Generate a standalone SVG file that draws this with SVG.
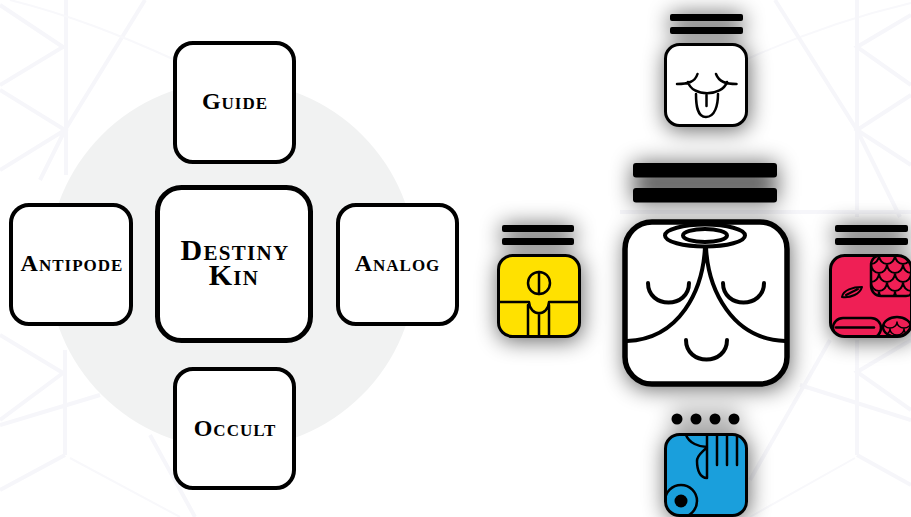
<svg xmlns="http://www.w3.org/2000/svg" width="911" height="517" viewBox="0 0 911 517">
<style>
.box{fill:#fff;stroke:#000;stroke-width:4}
.lbl{font-family:"Liberation Serif",serif;font-weight:bold;font-variant:small-caps;font-size:24px;letter-spacing:1px;text-anchor:middle;fill:#000}
.big{font-size:30px;letter-spacing:1.300px}
.l{fill:none;stroke:#000;stroke-linecap:round;stroke-linejoin:round}
.bg{fill:none;stroke:#f6f6fa;stroke-width:4}
.bt{fill:none;stroke:#f8f8fb;stroke-width:2}
</style>
<defs>
<filter id="sh" x="-40%" y="-40%" width="180%" height="180%"><feGaussianBlur stdDeviation="11"/></filter>
<clipPath id="rc"><rect x="830.500" y="255.500" width="81" height="81" rx="14"/></clipPath>
<clipPath id="bc"><rect x="665.500" y="434.500" width="81" height="81" rx="14"/></clipPath>
<clipPath id="sc"><rect x="871" y="255" width="45" height="41" rx="10"/></clipPath>
<clipPath id="ec"><ellipse cx="897" cy="327" rx="14" ry="10"/></clipPath>
</defs>
<rect width="911" height="517" fill="#fff"/>
<g id="background">
<path class="bg" d="M66 0V175M0 5L63 47L0 85M0 90L65 130L0 170M145 0L65 130L40 180M65 350V455M0 335L63 373L0 420M0 425L100 395M65 455L0 490M150 435L195 517"/>
<path class="bt" d="M10 0C70 15 120 35 175 60M70 458L180 517M745 60C800 35 860 15 911 3M750 517L855 458"/>
<path class="bg" d="M857 0V217M775 0L857 130L900 217M911 15L857 47L911 85M911 95L857 130L911 165M620 212H911M857 340V455M911 340L857 372L911 410M800 385L911 420M857 455L911 485M830 340L750 480"/>
<circle cx="232" cy="265" r="184" fill="#f1f2f2"/>
</g>
<g id="guide"><rect class="box" x="175" y="43" width="119" height="119" rx="18"/><text class="lbl" x="235" y="109">Guide</text></g>
<g id="antipode"><rect class="box" x="11" y="205" width="120" height="119" rx="18"/><text class="lbl" x="72" y="271">Antipode</text></g>
<g id="destiny"><rect fill="#fff" stroke="#000" stroke-width="5" x="157.500" y="187.500" width="153" height="153" rx="24"/><text class="lbl big" x="235" y="260">Destiny</text><text class="lbl big" x="234" y="285">Kin</text></g>
<g id="analog"><rect class="box" x="338" y="205" width="119" height="119" rx="18"/><text class="lbl" x="397.500" y="271">Analog</text></g>
<g id="occult"><rect class="box" x="175" y="369" width="119" height="119" rx="18"/><text class="lbl" x="235" y="436">Occult</text></g>

<g id="shadows" filter="url(#sh)" fill="#000" opacity=".6">
<rect x="633" y="163" width="144" height="40"/><rect x="625" y="225" width="165" height="164" rx="24"/>
<rect x="670" y="14" width="73" height="20"/><rect x="665" y="46" width="84" height="84" rx="14"/>
<rect x="502" y="225" width="72" height="20"/><rect x="498" y="257" width="84" height="84" rx="14"/>
<rect x="835" y="225" width="73" height="20"/><rect x="831" y="257" width="84" height="84" rx="14"/>
<rect x="672" y="414" width="68" height="10"/><rect x="665" y="436" width="84" height="84" rx="14"/>
</g>

<g id="destiny-glyph">
<rect x="633" y="163" width="144" height="14.500" rx="3"/><rect x="633" y="188" width="144" height="14.500" rx="3"/>
<rect x="625" y="222" width="162" height="162" rx="27" fill="#fff" stroke="#000" stroke-width="5.500"/>
<g class="l" stroke-width="4">
<ellipse cx="705" cy="235.500" rx="40" ry="11"/><ellipse cx="705" cy="235.500" rx="22" ry="6.500"/>
<path d="M705 247C703 290 680 339 627 341M706 247C708 290 732 339 785 341"/>
<path d="M648 283C648 309 689 309 689 283M723 283C723 309 764 309 764 283M686 340C686 366 727 366 727 340"/>
</g></g>

<g id="guide-glyph">
<rect x="670" y="14" width="73" height="7" rx="2"/><rect x="670" y="27" width="73" height="7" rx="2"/>
<rect x="665.500" y="44.500" width="81" height="81" rx="14" fill="#fff" stroke="#000" stroke-width="3"/>
<g class="l" stroke-width="2.500">
<path d="M697.500 74C695 82 688 84 677 84M716 74C719 82 726 84 736.500 84M688 82C692 97 722 97 727 82"/>
<path d="M696 94C696 105 697 117 706 117C715 117 718 105 718 94M706.500 95V106"/>
</g></g>

<g id="antipode-glyph">
<rect x="502" y="225" width="72" height="7" rx="2"/><rect x="502" y="238" width="72" height="7" rx="2"/>
<rect x="498.500" y="255.500" width="81" height="81" rx="14" fill="#ffe100" stroke="#000" stroke-width="3"/>
<g class="l" stroke-width="2.500">
<circle cx="539" cy="283" r="11"/><path d="M539 272V294M499 302H529C530 317 548 317 549 302H579M528 305V336M539 313V336M549 305V336"/>
</g></g>

<g id="analog-glyph">
<rect x="835" y="225" width="73" height="7" rx="2"/><rect x="835" y="238" width="73" height="7" rx="2"/>
<rect x="830.500" y="255.500" width="81" height="81" rx="14" fill="#ef1f55" stroke="#000" stroke-width="3"/>
<g clip-path="url(#rc)" class="l" stroke-width="2.500">
<rect x="871" y="255" width="45" height="41" rx="10"/>
<g clip-path="url(#sc)" stroke-width="2">
<path d="M863 255a8 9 0 0 0 16 0a8 9 0 0 0 16 0a8 9 0 0 0 16 0M871 264a8 9 0 0 0 16 0a8 9 0 0 0 16 0a8 9 0 0 0 16 0M863 273a8 9 0 0 0 16 0a8 9 0 0 0 16 0a8 9 0 0 0 16 0M871 282a8 9 0 0 0 16 0a8 9 0 0 0 16 0a8 9 0 0 0 16 0M863 291a8 9 0 0 0 16 0a8 9 0 0 0 16 0a8 9 0 0 0 16 0"/>
</g>
<rect x="833" y="318" width="48" height="20" rx="10"/><path d="M836 327.500H874"/>
<ellipse cx="897" cy="327" rx="14" ry="10"/>
<g clip-path="url(#ec)" stroke-width="1.500"><path d="M883 322a7 6 0 0 0 14 0a7 6 0 0 0 14 0M876 329a7 6 0 0 0 14 0a7 6 0 0 0 14 0a7 6 0 0 0 14 0"/></g>
</g>
<path class="l" stroke-width="2" d="M842 297C843 290 853 287 862 287C860 294 851 298 842 297ZM846 295L858 289"/>
</g>

<g id="occult-glyph">
<circle cx="677" cy="419" r="5.500"/><circle cx="696" cy="419" r="5.500"/><circle cx="715" cy="419" r="5.500"/><circle cx="734" cy="419" r="5.500"/>
<rect x="665.500" y="434.500" width="81" height="81" rx="14" fill="#1a9fdc" stroke="#000" stroke-width="3"/>
<g class="l" stroke-width="2.500" clip-path="url(#bc)">
<path d="M686 435C689 443 699 447 707 447M707 435V478C700 478 697 470 697 461C697 455 703 452 707 447M717 435V465M727 435V465M737 435V465"/>
<circle cx="681" cy="501" r="16"/>
</g>
<circle cx="681" cy="501" r="6.500"/>
</g>
<g id="connectors"/>
</svg>
